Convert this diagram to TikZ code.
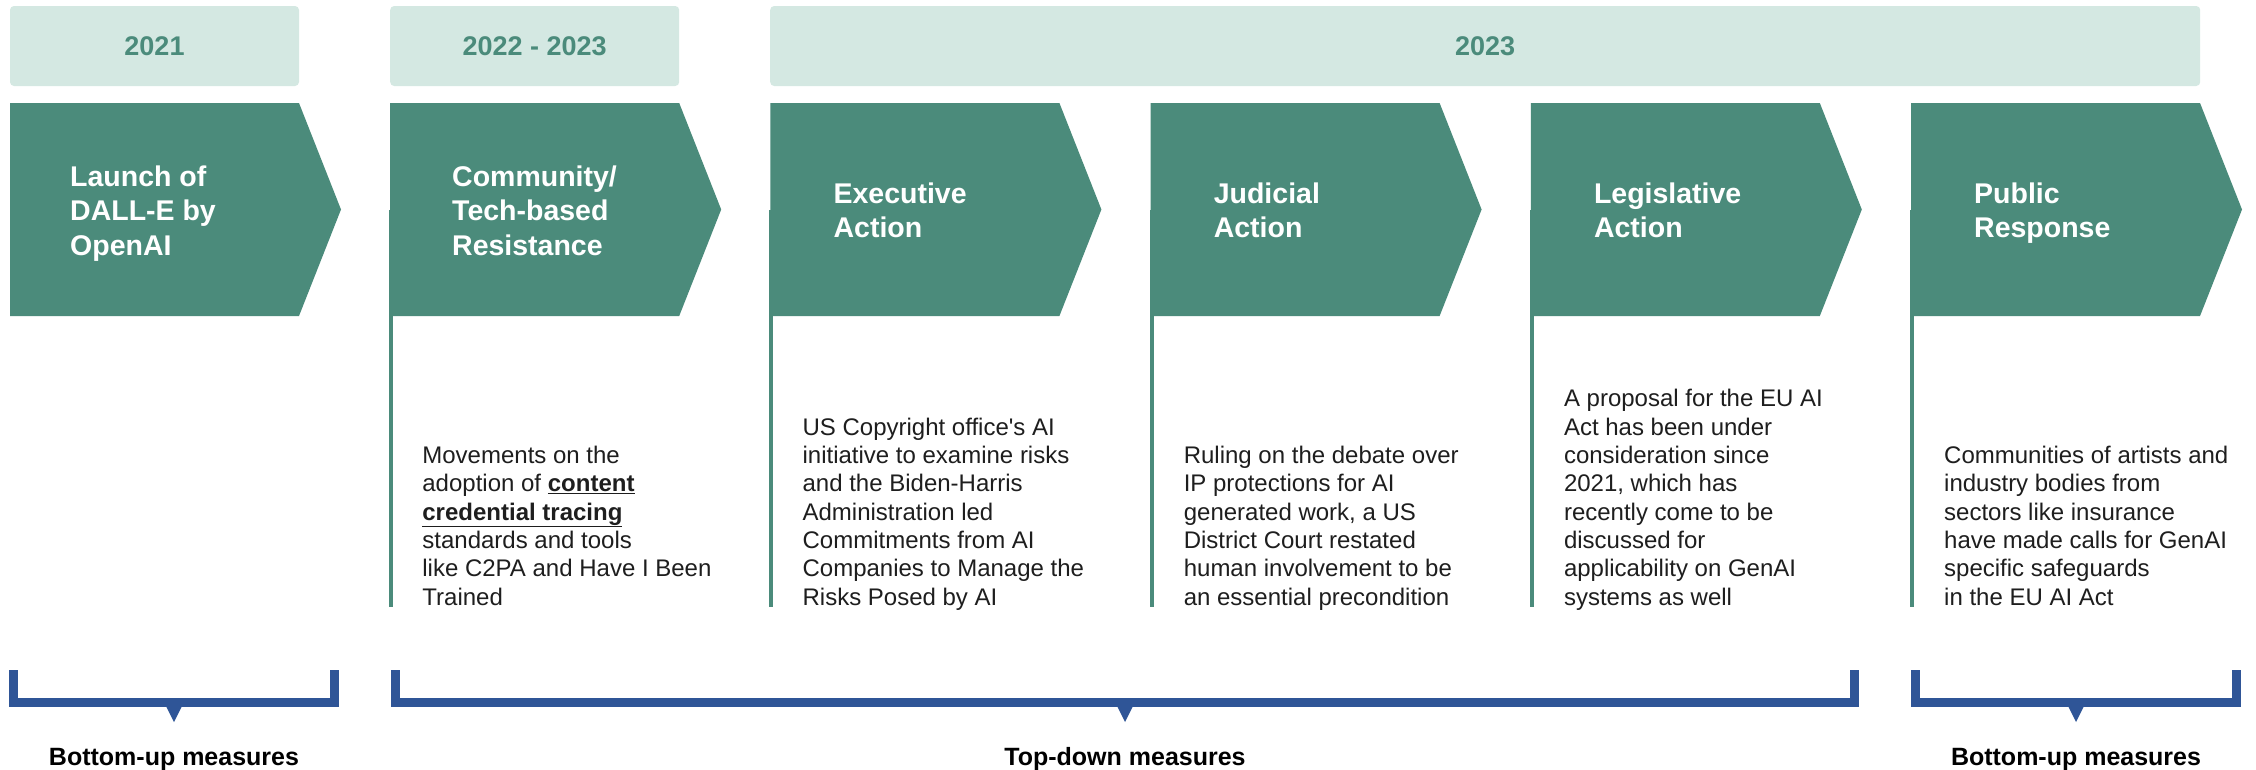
\documentclass[tikz,border=0pt]{standalone}
\usepackage{fontspec}
\setmainfont{Liberation Sans}[Ligatures=TeXOff]
\definecolor{tealA}{HTML}{4B8B7B}
\definecolor{yearbg}{HTML}{D4E8E2}
\definecolor{brk}{HTML}{2F5597}
\definecolor{bodytxt}{HTML}{1E1E1E}
\tikzset{
  chev/.style={fill=tealA},
  yearbox/.style={fill=yearbg, rounded corners=4pt, minimum width=289pt, minimum height=80pt, inner sep=0pt,
    text=tealA, font=\fontsize{27}{32}\selectfont\bfseries},
  titletext/.style={text=white, font=\fontsize{28.5}{34.5}\selectfont\bfseries, anchor=base west, inner sep=0pt},
  bodytext/.style={text=bodytxt, font=\fontsize{24}{28.3}\selectfont, anchor=base west, inner sep=0pt},
  tline/.style={draw=tealA, line width=4pt},
  bracket/.style={draw=brk, line width=9pt, line join=miter},
  pointer/.style={fill=brk},
  measlabel/.style={font=\fontsize{25}{30}\selectfont\bfseries, anchor=base, inner sep=0pt, text=black},
}
\newcommand\bodylines[1]{\begin{tabular}[b]{@{}l@{}}#1\end{tabular}}
\newcommand\titlelines[1]{\begin{tabular}[t]{@{}l@{}}#1\end{tabular}}
\begin{document}
\begin{tikzpicture}[x=1pt, y=-1pt]
\useasboundingbox (0,0) rectangle (2256,769);
\fill[white] (0,0) rectangle (2256,769);

% year boxes
\node[yearbox] (y1) at (154.5,46) {2021};
\node[yearbox] (y2) at (534.7,46) {2022 - 2023};
\node[yearbox, minimum width=1430pt] (y3) at (1485.2,46) {2023};

% chevrons and timeline stems
\foreach \i in {0,...,5} {
  \pgfmathsetmacro\xl{10+380.2*\i}
  \fill[chev] (\xl,103) -- ++(289,0) -- ++(42,106.5) -- ++(-42,106.5) -- ++(-289,0) -- cycle;
  \coordinate (cl\i) at (\xl+1,209.5);
  \coordinate (cb\i) at (\xl+1,607);
}
\foreach \i in {1,...,5} {
  \draw[tline] (cl\i) -- (cb\i);
}

% titles (anchored at the first baseline)
\node[titletext] (t1) at (70,186) {\titlelines{Launch of\\DALL-E by\\OpenAI}};
\node[titletext] (t2) at (452,186) {\titlelines{Community/\\Tech-based\\Resistance}};
\node[titletext] (t3) at (833.4,203) {\titlelines{Executive\\Action}};
\node[titletext] (t4) at (1213.6,203) {\titlelines{Judicial\\Action}};
\node[titletext] (t5) at (1593.8,203) {\titlelines{Legislative\\Action}};
\node[titletext] (t6) at (1974,203) {\titlelines{Public\\Response}};

% body texts
\node[bodytext] (b2) at (422.2,605) {\bodylines{Movements on the\\adoption of \underline{\textbf{content}}\\\underline{\textbf{credential tracing}}\\standards and tools\\like C2PA and Have I Been\\Trained}};
\node[bodytext] (b3) at (802.4,605) {\bodylines{US Copyright office's AI\\initiative to examine risks\\and the Biden-Harris\\Administration led\\Commitments from AI\\Companies to Manage the\\Risks Posed by AI}};
\node[bodytext] (b4) at (1183.6,605) {\bodylines{Ruling on the debate over\\IP protections for AI\\generated work, a US\\District Court restated\\human involvement to be\\an essential precondition}};
\node[bodytext] (b5) at (1563.8,605) {\bodylines{A proposal for the EU AI\\Act has been under\\consideration since\\2021, which has\\recently come to be\\discussed for\\applicability on GenAI\\systems as well}};
\node[bodytext] (b6) at (1944,605) {\bodylines{Communities of artists and\\industry bodies from\\sectors like insurance\\have made calls for GenAI\\specific safeguards\\in the EU AI Act}};

% brackets
\draw[bracket] (13.5,670) -- (13.5,702.5) -- (334.5,702.5) -- (334.5,670);
\fill[pointer] (166,706) -- (182,706) -- (174,722) -- cycle;
\draw[bracket] (395.5,670) -- (395.5,702.5) -- (1854.5,702.5) -- (1854.5,670);
\fill[pointer] (1117,706) -- (1133,706) -- (1125,722) -- cycle;
\draw[bracket] (1915.5,670) -- (1915.5,702.5) -- (2236.5,702.5) -- (2236.5,670);
\fill[pointer] (2068,706) -- (2084,706) -- (2076,722) -- cycle;

% labels
\node[measlabel] (m1) at (174,765) {Bottom-up measures};
\node[measlabel] (m2) at (1125,765) {Top-down measures};
\node[measlabel] (m3) at (2076,765) {Bottom-up measures};
\end{tikzpicture}
\end{document}
